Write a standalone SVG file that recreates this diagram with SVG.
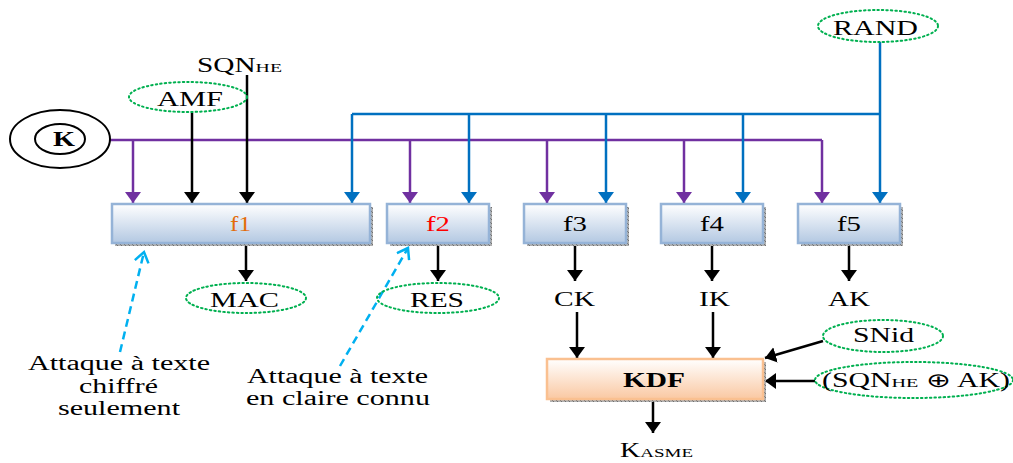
<svg xmlns="http://www.w3.org/2000/svg" width="1013" height="463" viewBox="0 0 1013 463">
<style>
text{font-family:"Liberation Serif","Times New Roman",serif;fill:#000;font-size:20px}
.ell{fill:none;stroke:#00B050;stroke-width:2;stroke-dasharray:1.5 3;stroke-linecap:round}
.box{fill:url(#gBlue);stroke:#95B3D7;stroke-width:2.5}
.shadow{fill:url(#hatch)}
.pur{stroke:#7030A0;stroke-width:2.5;fill:none}
.blu{stroke:#0070C0;stroke-width:2.5;fill:none}
.blk{stroke:#000;stroke-width:2.5;fill:none}
.dash{stroke:#00B0F0;stroke-width:2.5;fill:none;stroke-dasharray:8 5}
</style>
<defs>
<linearGradient id="gBlue" x1="0" y1="0" x2="0" y2="1"><stop offset="0" stop-color="#FFFFFF"/><stop offset="1" stop-color="#B3C8E2"/></linearGradient>
<linearGradient id="gOrange" x1="0" y1="0" x2="0" y2="1"><stop offset="0" stop-color="#FFFFFF"/><stop offset="1" stop-color="#FAC8A2"/></linearGradient>
<pattern id="hatch" width="4" height="4" patternUnits="userSpaceOnUse"><rect width="4" height="4" fill="#B0B0B0"/><path d="M0,0 L4,4" stroke="#707070" stroke-width="1"/></pattern>
<marker id="aP" markerUnits="userSpaceOnUse" markerWidth="12" markerHeight="16" refX="11" refY="8" orient="auto"><path d="M0,0 L11,8 L0,16 z" fill="#7030A0"/></marker>
<marker id="aB" markerUnits="userSpaceOnUse" markerWidth="12" markerHeight="16" refX="11" refY="8" orient="auto"><path d="M0,0 L11,8 L0,16 z" fill="#0070C0"/></marker>
<marker id="aK" markerUnits="userSpaceOnUse" markerWidth="12" markerHeight="16" refX="11" refY="8" orient="auto"><path d="M0,0 L11,8 L0,16 z" fill="#000"/></marker>
<marker id="aD" markerUnits="userSpaceOnUse" markerWidth="14" markerHeight="18" refX="11" refY="8" orient="auto"><path d="M1,1 L11,8 L1,15" fill="none" stroke="#00B0F0" stroke-width="2.5"/></marker>
</defs>

<g id="connectors">
<path class="pur" d="M110,140 H822"/>
<path class="pur" d="M133,140 V203" marker-end="url(#aP)"/>
<path class="pur" d="M410,140 V203" marker-end="url(#aP)"/>
<path class="pur" d="M547,140 V203" marker-end="url(#aP)"/>
<path class="pur" d="M684,140 V203" marker-end="url(#aP)"/>
<path class="pur" d="M822,140 V203" marker-end="url(#aP)"/>
<path class="blu" d="M352,114 H880"/>
<path class="blu" d="M880,42 V203" marker-end="url(#aB)"/>
<path class="blu" d="M352,114 V203" marker-end="url(#aB)"/>
<path class="blu" d="M469,114 V203" marker-end="url(#aB)"/>
<path class="blu" d="M606,114 V203" marker-end="url(#aB)"/>
<path class="blu" d="M743,114 V203" marker-end="url(#aB)"/>
<path class="blk" d="M192,113 V203" marker-end="url(#aK)"/>
<path class="blk" d="M247,75 V203" marker-end="url(#aK)"/>
<path class="blk" d="M246,245 V281" marker-end="url(#aK)"/>
<path class="blk" d="M438,245 V281" marker-end="url(#aK)"/>
<path class="blk" d="M575,245 V281" marker-end="url(#aK)"/>
<path class="blk" d="M712,245 V281" marker-end="url(#aK)"/>
<path class="blk" d="M849,245 V281" marker-end="url(#aK)"/>
<path class="blk" d="M577,312 V358" marker-end="url(#aK)"/>
<path class="blk" d="M713,312 V358" marker-end="url(#aK)"/>
<path class="blk" d="M823,341 L765,358" marker-end="url(#aK)"/>
<path class="blk" d="M815,381 H765" marker-end="url(#aK)"/>
<path class="blk" d="M653,400 V433" marker-end="url(#aK)"/>
<path class="dash" d="M120,352 L144,252" marker-end="url(#aD)"/>
<path class="dash" d="M340,366 L408,248" marker-end="url(#aD)"/>
</g>

<g id="K">
<ellipse cx="60" cy="139" rx="50" ry="29" fill="#fff" stroke="#000" stroke-width="2"/>
<ellipse cx="60" cy="139" rx="25" ry="15" fill="none" stroke="#000" stroke-width="2"/>
<text x="53" y="146" font-weight="bold" textLength="22" lengthAdjust="spacingAndGlyphs">K</text>
</g>

<g id="SQNHE"><text x="197" y="72" textLength="85" lengthAdjust="spacingAndGlyphs">SQN<tspan font-size="13.5">HE</tspan></text></g>
<g id="AMF"><ellipse class="ell" cx="188" cy="97" rx="59" ry="15"/><text x="157" y="106" textLength="66" lengthAdjust="spacingAndGlyphs">AMF</text></g>
<g id="RAND"><ellipse class="ell" cx="878" cy="26" rx="60" ry="16"/><text x="833" y="35" textLength="85" lengthAdjust="spacingAndGlyphs">RAND</text></g>

<g id="f1"><rect class="shadow" x="115" y="207" width="258" height="39"/><rect class="box" x="112" y="204" width="258" height="39"/><text x="230" y="231" style="fill:#E36C09" textLength="21" lengthAdjust="spacingAndGlyphs">f1</text></g>
<g id="f2"><rect class="shadow" x="390" y="207" width="102" height="39"/><rect class="box" x="387" y="204" width="102" height="39"/><text x="426" y="231" style="fill:#FF0000" textLength="24" lengthAdjust="spacingAndGlyphs">f2</text></g>
<g id="f3"><rect class="shadow" x="527" y="207" width="102" height="39"/><rect class="box" x="524" y="204" width="102" height="39"/><text x="563" y="231" textLength="24" lengthAdjust="spacingAndGlyphs">f3</text></g>
<g id="f4"><rect class="shadow" x="664" y="207" width="102" height="39"/><rect class="box" x="661" y="204" width="102" height="39"/><text x="700" y="231" textLength="24" lengthAdjust="spacingAndGlyphs">f4</text></g>
<g id="f5"><rect class="shadow" x="801" y="207" width="102" height="39"/><rect class="box" x="798" y="204" width="102" height="39"/><text x="837" y="231" textLength="24" lengthAdjust="spacingAndGlyphs">f5</text></g>

<g id="MAC"><ellipse class="ell" cx="246" cy="298" rx="60" ry="15"/><text x="210" y="307" textLength="69" lengthAdjust="spacingAndGlyphs">MAC</text></g>
<g id="RES"><ellipse class="ell" cx="438" cy="298" rx="61" ry="15"/><text x="410" y="307" textLength="54" lengthAdjust="spacingAndGlyphs">RES</text></g>
<g id="CK"><text x="554" y="306" textLength="41" lengthAdjust="spacingAndGlyphs">CK</text></g>
<g id="IK"><text x="699" y="306" textLength="31" lengthAdjust="spacingAndGlyphs">IK</text></g>
<g id="AK"><text x="828" y="306" textLength="42" lengthAdjust="spacingAndGlyphs">AK</text></g>

<g id="SNid"><ellipse class="ell" cx="883" cy="336" rx="60" ry="16"/><text x="853" y="342" textLength="61" lengthAdjust="spacingAndGlyphs">SNid</text></g>
<g id="SQNxorAK"><ellipse class="ell" cx="914" cy="380" rx="99" ry="18"/><text x="822" y="387" textLength="188" lengthAdjust="spacingAndGlyphs">(SQN<tspan font-size="13.5">HE</tspan> ⊕ AK)</text></g>

<g id="KDF"><rect class="shadow" x="550" y="362" width="216" height="40"/><rect x="547" y="359" width="216" height="40" fill="url(#gOrange)" stroke="#FAC090" stroke-width="2.5"/><text x="623" y="387" font-weight="bold" textLength="62" lengthAdjust="spacingAndGlyphs">KDF</text></g>
<g id="KASME"><text x="620" y="457" textLength="73" lengthAdjust="spacingAndGlyphs">K<tspan font-size="13.5">ASME</tspan></text></g>

<g id="attack1">
<text x="28" y="370" textLength="182" lengthAdjust="spacingAndGlyphs">Attaque à texte</text>
<text x="79" y="393" textLength="79" lengthAdjust="spacingAndGlyphs">chiffré</text>
<text x="58" y="415" textLength="122" lengthAdjust="spacingAndGlyphs">seulement</text>
</g>
<g id="attack2">
<text x="247" y="383" textLength="181" lengthAdjust="spacingAndGlyphs">Attaque à texte</text>
<text x="246" y="405" textLength="184" lengthAdjust="spacingAndGlyphs">en claire connu</text>
</g>
</svg>
